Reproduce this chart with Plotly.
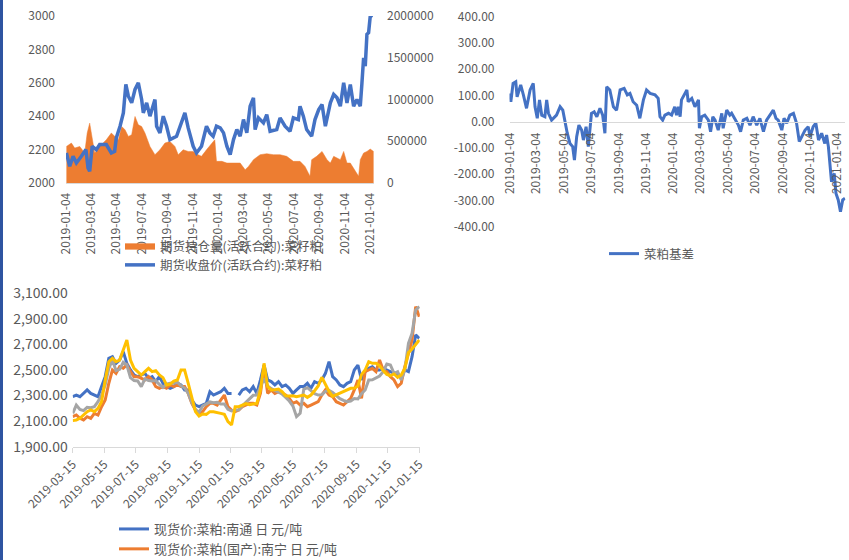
import plotly.graph_objects as go

# ---------------- Panel 1: futures open interest (area) & close price (line) ----------------
oi_dates = ["2019-01-04","2019-01-16","2019-01-24","2019-02-05","2019-02-17","2019-02-23","2019-03-01",
            "2019-03-08","2019-03-13","2019-03-25","2019-04-10","2019-04-22","2019-04-30","2019-05-09",
            "2019-05-17","2019-05-25","2019-06-02","2019-06-10","2019-06-18","2019-06-26","2019-07-04",
            "2019-07-12","2019-07-24","2019-08-05","2019-08-17","2019-08-29","2019-09-10","2019-09-22",
            "2019-09-30","2019-10-12","2019-10-24","2019-11-05","2019-11-17","2019-11-25","2019-12-07",
            "2019-12-19","2019-12-27","2019-12-31","2020-01-13","2020-01-25","2020-02-10","2020-02-26",
            "2020-03-09","2020-03-17","2020-03-29","2020-04-14","2020-04-30","2020-05-16","2020-06-01",
            "2020-06-17","2020-07-03","2020-07-19","2020-07-31","2020-08-12","2020-08-16","2020-08-28",
            "2020-09-10","2020-09-22","2020-09-30","2020-10-08","2020-10-16","2020-10-24","2020-11-01",
            "2020-11-09","2020-11-17","2020-11-25","2020-12-07","2020-12-11","2020-12-19","2020-12-27",
            "2021-01-04","2021-01-12"]
oi_values = [438000,478000,418000,438000,359000,598000,717000,
             518000,359000,438000,518000,598000,558000,518000,
             677000,637000,558000,578000,797000,697000,677000,
             598000,438000,339000,398000,478000,498000,438000,
             339000,398000,378000,378000,339000,319000,398000,
             478000,518000,259000,259000,239000,239000,239000,
             159000,199000,279000,339000,351000,339000,339000,
             319000,259000,259000,199000,80000,279000,319000,
             378000,279000,239000,319000,299000,279000,378000,
             239000,239000,179000,80000,279000,359000,378000,
             406000,378000]

close_dates = ["2019-01-04","2019-01-12","2019-01-20","2019-01-28","2019-02-09","2019-02-20","2019-02-25",
               "2019-03-01","2019-03-07","2019-03-17","2019-03-25","2019-04-10","2019-04-22","2019-04-30",
               "2019-05-04","2019-05-13","2019-05-21","2019-05-27","2019-06-02","2019-06-10","2019-06-18",
               "2019-06-26","2019-07-04","2019-07-08","2019-07-16","2019-07-24","2019-08-05","2019-08-09",
               "2019-08-17","2019-08-25","2019-09-02","2019-09-10","2019-09-26","2019-10-08","2019-10-16",
               "2019-10-24","2019-11-05","2019-11-13","2019-11-25","2019-12-07","2019-12-15","2019-12-23",
               "2019-12-31","2020-01-09","2020-01-17","2020-01-25","2020-02-02","2020-02-10","2020-02-18",
               "2020-02-26","2020-03-05","2020-03-13","2020-03-21","2020-03-29","2020-04-02","2020-04-10",
               "2020-04-22","2020-04-30","2020-05-08","2020-05-24","2020-06-01","2020-06-13","2020-06-25",
               "2020-07-03","2020-07-15","2020-07-19","2020-07-27","2020-08-04","2020-08-16","2020-08-24",
               "2020-09-02","2020-09-10","2020-09-18","2020-09-30","2020-10-08","2020-10-16","2020-10-24",
               "2020-11-01","2020-11-09","2020-11-17","2020-11-25","2020-12-03","2020-12-11","2020-12-15",
               "2020-12-19","2020-12-23","2020-12-27","2020-12-31","2021-01-04","2021-01-08"]
close_values = [2180,2100,2160,2120,2160,2200,2090,
                2070,2220,2200,2230,2230,2180,2190,
                2270,2340,2420,2590,2520,2480,2560,
                2600,2500,2420,2480,2400,2500,2340,
                2300,2400,2340,2260,2280,2360,2420,
                2330,2220,2180,2220,2340,2300,2280,
                2340,2330,2300,2220,2170,2260,2320,
                2280,2380,2300,2460,2510,2320,2390,
                2360,2410,2310,2320,2390,2340,2310,
                2390,2380,2460,2400,2320,2280,2380,
                2440,2470,2340,2480,2530,2510,2460,
                2600,2480,2590,2460,2500,2460,2600,
                2750,2700,2890,2900,3000,2990]

top_tick_dates = ["2019-01-04","2019-03-04","2019-05-04","2019-07-04","2019-09-04","2019-11-04",
                  "2020-01-04","2020-03-04","2020-05-04","2020-07-04","2020-09-04","2020-11-04","2021-01-04"]

# ---------------- Panel 2: basis ----------------
basis_dates = ["2019-01-04","2019-01-06","2019-01-11","2019-01-17","2019-01-20","2019-01-28","2019-02-03",
               "2019-02-10","2019-02-18","2019-02-25","2019-03-01","2019-03-06","2019-03-11","2019-03-16",
               "2019-03-23","2019-03-27","2019-03-31","2019-04-07","2019-04-18","2019-04-26","2019-05-02",
               "2019-05-07","2019-05-12","2019-05-18","2019-05-24","2019-05-28","2019-06-02","2019-06-07",
               "2019-06-13","2019-06-17","2019-06-23","2019-06-28","2019-07-02","2019-07-05","2019-07-11",
               "2019-07-17","2019-07-24","2019-07-30","2019-08-04","2019-08-08","2019-08-15","2019-08-23",
               "2019-08-30","2019-09-07","2019-09-16","2019-09-23","2019-09-29","2019-10-06","2019-10-14",
               "2019-10-21","2019-10-29","2019-11-05","2019-11-13","2019-11-24","2019-12-01","2019-12-05",
               "2019-12-11","2019-12-16","2019-12-24","2019-12-31","2020-01-07","2020-01-11","2020-01-15",
               "2020-01-19","2020-01-22","2020-01-30","2020-02-03","2020-02-06","2020-02-14","2020-02-21",
               "2020-02-29","2020-03-02","2020-03-07","2020-03-14","2020-03-22","2020-03-27","2020-04-01",
               "2020-04-06","2020-04-13","2020-04-21","2020-04-24","2020-05-02","2020-05-09","2020-05-13",
               "2020-05-20","2020-05-28","2020-06-02","2020-06-08","2020-06-16","2020-06-23","2020-06-30",
               "2020-07-08","2020-07-15","2020-07-23","2020-07-30","2020-08-07","2020-08-14","2020-08-20",
               "2020-08-25","2020-09-02","2020-09-07","2020-09-13","2020-09-20","2020-09-28","2020-10-05",
               "2020-10-11","2020-10-19","2020-10-24","2020-10-31","2020-11-04","2020-11-11","2020-11-17",
               "2020-11-23","2020-11-30","2020-12-07","2020-12-11","2020-12-15","2020-12-19","2020-12-22",
               "2020-12-28","2021-01-01","2021-01-06","2021-01-11","2021-01-16","2021-01-21"]
basis_values = [108,76,146,152,95,140,102,
                51,121,146,57,13,83,25,
                19,83,32,6,25,57,44,
                -6,-44,-83,-95,-146,-57,-13,
                -32,-70,-19,-95,-32,32,38,
                19,51,25,-44,133,121,57,
                44,121,127,102,108,76,63,
                13,83,121,108,102,89,19,
                6,25,32,25,57,25,57,
                19,83,108,121,76,89,57,
                83,-25,19,25,6,-38,19,
                6,-32,32,-25,44,25,32,
                13,-13,-38,6,13,-13,19,
                -13,13,-38,6,25,44,13,
                6,-32,13,-6,25,32,-6,
                -76,-51,-32,-19,-57,-19,-6,
                -70,-44,-83,-51,-95,-171,-229,
                -197,-273,-298,-343,-298,-292]
basis_ticks = [400, 300, 200, 100, 0, -100, -200, -300, -400]
basis_tick_text = ["400.00","300.00","200.00","100.00","0.00","-100.00","-200.00","-300.00","-400.00"]

# ---------------- Panel 3: spot prices ----------------
spot_dates = ["2019-03-15","2019-03-22","2019-03-29","2019-04-05","2019-04-12","2019-04-19","2019-04-26",
              "2019-05-03","2019-05-10","2019-05-17","2019-05-24","2019-05-31","2019-06-07","2019-06-14",
              "2019-06-21","2019-06-28","2019-07-05","2019-07-12","2019-07-19","2019-07-26","2019-08-02",
              "2019-08-09","2019-08-16","2019-08-23","2019-08-30","2019-09-06","2019-09-13","2019-09-20",
              "2019-09-27","2019-10-04","2019-10-11","2019-10-18","2019-10-25","2019-11-01","2019-11-08",
              "2019-11-15","2019-11-22","2019-11-29","2019-12-06","2019-12-13","2019-12-20","2019-12-27",
              "2020-01-03","2020-01-10","2020-01-17","2020-01-24","2020-01-31","2020-02-07","2020-02-14",
              "2020-02-21","2020-02-28","2020-03-06","2020-03-13","2020-03-20","2020-03-27","2020-04-03",
              "2020-04-10","2020-04-17","2020-04-24","2020-05-01","2020-05-08","2020-05-15","2020-05-22",
              "2020-05-29","2020-06-05","2020-06-12","2020-06-19","2020-06-26","2020-07-03","2020-07-10",
              "2020-07-17","2020-07-24","2020-07-31","2020-08-07","2020-08-14","2020-08-21","2020-08-28",
              "2020-09-04","2020-09-11","2020-09-18","2020-09-25","2020-10-02","2020-10-09","2020-10-16",
              "2020-10-23","2020-10-30","2020-11-06","2020-11-13","2020-11-20","2020-11-27","2020-12-04",
              "2020-12-11","2020-12-18","2020-12-25","2021-01-01","2021-01-08","2021-01-15"]
spot_nantong = [2291,2304,2291,2317,2344,2317,2304,
                2291,2370,2448,2591,2604,2552,2578,
                2644,2552,2500,2461,2448,2461,2474,
                2435,2448,2409,2448,2396,2370,2357,
                2370,2396,2383,2344,2344,2265,2226,
                2213,2226,2239,2330,2304,2317,2330,
                2357,2317,2317,None,2304,2344,2357,
                2330,2370,2317,2422,2539,2422,2409,
                2383,2409,2370,2383,2357,2317,2344,
                2370,2370,2396,2357,2409,2396,2422,
                2474,2565,2448,2422,2383,2370,2396,
                2409,2500,2539,2422,2487,2513,2526,
                2500,2500,2513,2500,2487,2474,2461,
                2448,2500,2487,2604,2774,2748]
spot_nanning = [2135,2148,2122,2109,2135,2122,2161,
                2148,2213,2265,2396,2500,2474,2526,
                2513,2539,2487,2448,2448,2435,2422,
                2448,2422,2370,2357,2370,2357,2383,
                2370,2383,2370,2370,2317,2239,2187,
                2161,2174,2213,2239,2239,2226,2265,
                2304,2213,2187,2174,2187,2213,2226,
                2239,2239,2226,2317,2526,2317,2344,
                2317,2330,2317,2304,2278,2239,2252,
                2226,2239,2213,2226,2239,2252,2304,
                2344,2304,2291,2252,2239,2226,2252,
                2278,2344,2422,2278,2487,2500,2513,
                2487,2578,2500,2487,2448,2422,2370,
                2396,2526,2630,2735,2996,2917]
spot_gray = [2161,2226,2192,2182,2208,2205,2213,
             2252,2304,2383,2513,2578,2495,2505,
             2560,2539,2440,2417,2414,2370,2430,
             2417,2414,2417,2388,2364,2390,2396,
             2396,2404,2377,2359,2317,2244,2192,
             2169,2218,2234,2250,2244,2247,2234,
             2234,2192,2179,2187,2187,2221,2247,
             2273,2302,2304,2370,2435,2375,2354,
             2341,2328,2312,2286,2257,2218,2135,
             2161,2349,2362,2341,2315,2304,2307,
             2333,2341,2325,2299,2276,2263,2252,
             2257,2276,2273,2315,2344,2422,2424,
             2437,2453,2487,2547,2539,2474,2487,
             2422,2500,2709,2787,2970,2996]
spot_yellow = [2104,2109,2122,2148,2174,2187,2174,
               2200,2252,2422,2565,2591,2565,2578,
               2657,2735,2578,2513,2487,2461,2487,
               2513,2487,2495,2461,2440,2383,2390,
               2414,2422,2500,2500,2396,2291,2174,
               2140,2156,2153,2174,2174,2169,2161,
               2153,2096,2070,2213,2213,2224,2237,
               2229,2237,2239,2344,2552,2370,2344,
               2346,2351,2330,2299,2297,2299,2291,
               2299,2304,2286,2304,2338,2375,2443,
               2391,2333,2294,2307,2320,2333,2346,
               2357,2357,2375,2464,2500,2565,2552,
               2552,2534,2495,2466,2456,2469,2443,
               2461,2513,2636,2664,2704,2735]
spot_tick_dates = ["2019-03-15","2019-05-15","2019-07-15","2019-09-15","2019-11-15","2020-01-15",
                   "2020-03-15","2020-05-15","2020-07-15","2020-09-15","2020-11-15","2021-01-15"]

BLUE = "#4472C4"
ORANGE = "#ED7D31"
GRAY = "#A5A5A5"
YELLOW = "#FFC000"
TXT = "#595959"
AXL = "#D9D9D9"
FONT = "Noto Sans CJK SC, sans-serif"

fig = go.Figure()

# Panel 1
fig.add_trace(go.Scatter(x=oi_dates, y=oi_values, name="期货持仓量(活跃合约):菜籽粕",
                         mode="lines", fill="tozeroy", fillcolor=ORANGE,
                         line=dict(color=ORANGE, width=0.5), xaxis="x", yaxis="y", legend="legend"))
fig.add_trace(go.Scatter(x=close_dates, y=close_values, name="期货收盘价(活跃合约):菜籽粕",
                         mode="lines", line=dict(color=BLUE, width=3.5),
                         xaxis="x", yaxis="y2", legend="legend"))
# Panel 2
fig.add_trace(go.Scatter(x=basis_dates, y=basis_values, name="菜粕基差", mode="lines",
                         line=dict(color=BLUE, width=3), xaxis="x2", yaxis="y3", legend="legend2"))
# Panel 3
fig.add_trace(go.Scatter(x=spot_dates, y=spot_nantong, name="现货价:菜粕:南通 日 元/吨", mode="lines",
                         line=dict(color=BLUE, width=3), xaxis="x3", yaxis="y4", legend="legend3"))
fig.add_trace(go.Scatter(x=spot_dates, y=spot_nanning, name="现货价:菜粕(国产):南宁 日 元/吨", mode="lines",
                         line=dict(color=ORANGE, width=3), xaxis="x3", yaxis="y4", legend="legend3"))
fig.add_trace(go.Scatter(x=spot_dates, y=spot_gray, name="现货价:菜粕", mode="lines",
                         line=dict(color=GRAY, width=3), xaxis="x3", yaxis="y4", showlegend=False))
fig.add_trace(go.Scatter(x=spot_dates, y=spot_yellow, name="现货价:菜粕 ", mode="lines",
                         line=dict(color=YELLOW, width=3), xaxis="x3", yaxis="y4", showlegend=False))

W, H = 849, 560
def px(x):
    return x / W
def py(y):
    return 1 - y / H

tickfont = dict(family=FONT, size=12, color=TXT)

fig.update_layout(
    width=W, height=H, margin=dict(l=0, r=0, t=0, b=0, pad=0, autoexpand=False),
    paper_bgcolor="white", plot_bgcolor="rgba(0,0,0,0)",
    font=dict(family=FONT, size=12, color=TXT),
    xaxis=dict(domain=[px(66), px(374)], range=["2019-01-03", "2021-01-13"], type="date",
               tickvals=top_tick_dates, ticktext=top_tick_dates, tickangle=-90,
               showgrid=False, zeroline=False, showline=True, linecolor=AXL, linewidth=1,
               ticks="", tickfont=tickfont, ticklabelstandoff=4,
               anchor="y", automargin=False),
    yaxis=dict(domain=[py(183), py(16)], range=[0, 2000000], side="right",
               tickvals=[0, 500000, 1000000, 1500000, 2000000],
               ticktext=["0", "500000", "1000000", "1500000", "2000000"],
               showgrid=False, zeroline=False, showline=False, ticks="", tickfont=tickfont,
               ticklabelstandoff=12, anchor="x", automargin=False),
    yaxis2=dict(domain=[py(183), py(16)], range=[2000, 3000], overlaying="y", side="left",
                tickvals=[2000, 2200, 2400, 2600, 2800, 3000],
                showgrid=False, zeroline=False, showline=False, ticks="", tickfont=tickfont,
                ticklabelstandoff=10, anchor="x", automargin=False),
    xaxis2=dict(domain=[px(509.5), px(845.4)], range=["2019-01-03", "2021-01-22"], type="date",
                tickvals=top_tick_dates, ticktext=top_tick_dates, tickangle=-90,
                showgrid=False, zeroline=False, showline=True, linecolor=AXL, linewidth=1,
                ticks="", tickfont=tickfont, ticklabelstandoff=5,
                anchor="free", position=py(121.7), automargin=False),
    yaxis3=dict(domain=[py(226.7), py(16.7)], range=[-400, 400],
                tickvals=basis_ticks, ticktext=basis_tick_text,
                showgrid=False, zeroline=False, showline=False, ticks="", tickfont=tickfont,
                ticklabelstandoff=14, anchor="x2", automargin=False),
    xaxis3=dict(domain=[px(72.7), px(419.8)], range=["2019-03-15", "2021-01-16"], type="date",
                tickvals=spot_tick_dates, ticktext=spot_tick_dates, tickangle=-45,
                showgrid=False, zeroline=False, showline=True, linecolor=AXL, linewidth=1,
                ticks="outside", ticklen=5, tickcolor=AXL, tickfont=tickfont, anchor="y4",
                automargin=False),
    yaxis4=dict(domain=[py(446.7), py(293.3)], range=[1900, 3100],
                tickvals=[1900, 2100, 2300, 2500, 2700, 2900, 3100], tickformat=",.2f",
                showgrid=False, zeroline=False, showline=False, ticks="",
                tickfont=dict(family=FONT, size=14, color=TXT),
                ticklabelstandoff=4, anchor="x3", automargin=False),
    legend=dict(x=px(120), y=py(231), xanchor="left", yanchor="top", bgcolor="rgba(0,0,0,0)",
                font=dict(family=FONT, size=12.5, color=TXT), tracegroupgap=0, itemwidth=30),
    legend2=dict(x=px(604), y=py(239), xanchor="left", yanchor="top", bgcolor="rgba(0,0,0,0)",
                 font=dict(family=FONT, size=12.5, color=TXT), itemwidth=30),
    legend3=dict(x=px(114), y=py(514), xanchor="left", yanchor="top", bgcolor="rgba(0,0,0,0)",
                 font=dict(family=FONT, size=13, color=TXT), tracegroupgap=0, itemwidth=30),
    shapes=[dict(type="rect", xref="paper", yref="paper", x0=0, x1=px(3), y0=0, y1=1,
                 fillcolor="#2E54A1", line=dict(width=0), layer="above")],
)

fig.write_html("out.html", config={"displayModeBar": False},
               post_script="document.body.style.margin='0';document.body.style.padding='0';")
